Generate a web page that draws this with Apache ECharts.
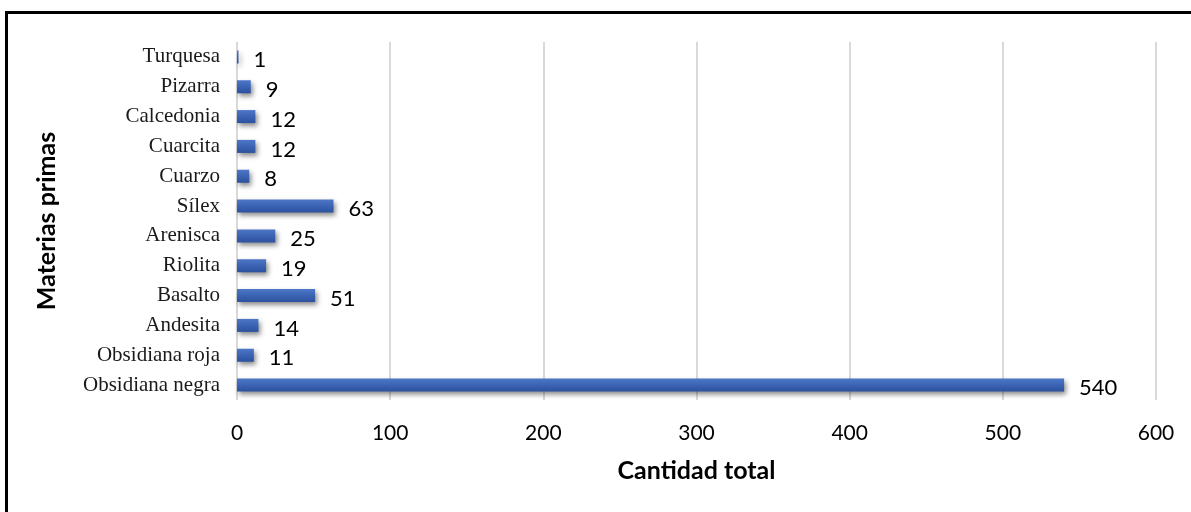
<!DOCTYPE html>
<html>
<head>
<meta charset="utf-8">
<script src="https://cdn.jsdelivr.net/npm/echarts@6/dist/echarts.min.js"></script>
<style>
  html, body { margin: 0; padding: 0; background: #fff; }
  #main { width: 1191px; height: 512px; position: relative; }
  #frame { position: absolute; left: 5px; top: 11px; width: 1200px; height: 520px;
           border: 3px solid #000; box-sizing: border-box; pointer-events: none; }
</style>
</head>
<body>
<div id="main"></div>
<div id="frame"></div>
<script>
// materias primas, de abajo hacia arriba
var categories = ['Obsidiana negra', 'Obsidiana roja', 'Andesita', 'Basalto', 'Riolita',
    'Arenisca', 'Sílex', 'Cuarzo', 'Cuarcita', 'Calcedonia', 'Pizarra', 'Turquesa'];
var cantidades = [540, 11, 14, 51, 19, 25, 63, 8, 12, 12, 9, 1];
var xTicks = [0, 100, 200, 300, 400, 500, 600];

var sans = 'Lato, "Open Sans", sans-serif';

var chart = echarts.init(document.getElementById('main'));
chart.setOption({
    animation: false,
    grid: {left: 237, right: 35, top: 42, bottom: 112},
    xAxis: {
        type: 'value',
        min: xTicks[0],
        max: xTicks[xTicks.length - 1],
        interval: 100,
        name: 'Cantidad total',
        nameLocation: 'middle',
        nameGap: 58,
        nameTextStyle: {fontFamily: sans, fontWeight: 'bold', fontSize: 25, color: '#000'},
        axisLine: {show: false},
        axisTick: {show: false},
        axisLabel: {margin: 23, fontFamily: sans, fontSize: 21, color: '#000'},
        splitLine: {lineStyle: {color: '#d9d9d9', width: 2}}
    },
    yAxis: {
        type: 'category',
        data: categories,
        name: 'Materias primas',
        nameLocation: 'middle',
        nameGap: 178,
        nameTextStyle: {fontFamily: sans, fontWeight: 'bold', fontSize: 25, color: '#000'},
        axisLine: {show: false},
        axisTick: {show: false},
        axisLabel: {margin: 17, fontFamily: '"Liberation Serif", serif', fontSize: 21, color: '#1a1a1a'}
    },
    series: [{
        type: 'bar',
        data: cantidades,
        barWidth: 13,
        itemStyle: {
            color: new echarts.graphic.LinearGradient(0, 0, 0, 1, [
                {offset: 0, color: '#4d76c8'},
                {offset: 1, color: '#2b519e'}
            ]),
            shadowColor: 'rgba(0,0,0,0.45)',
            shadowBlur: 5,
            shadowOffsetX: 2,
            shadowOffsetY: 3
        },
        label: {
            show: true,
            position: 'right',
            distance: 15,
            offset: [0, 3],
            fontFamily: sans,
            fontSize: 22,
            color: '#000'
        }
    }]
});
</script>
</body>
</html>
